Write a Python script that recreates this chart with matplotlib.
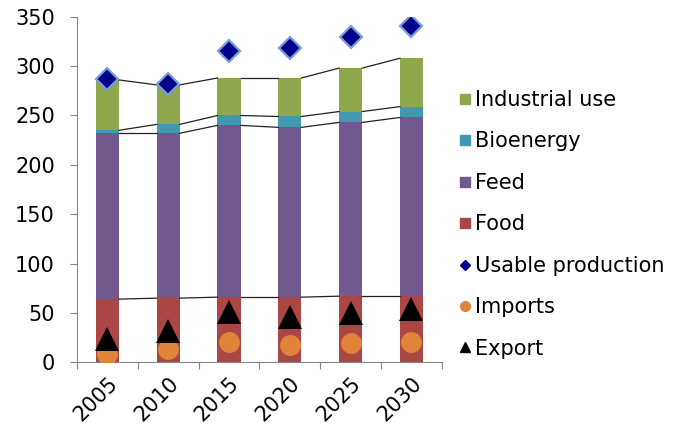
import matplotlib.pyplot as plt
import matplotlib.transforms as mtransforms
from matplotlib.lines import Line2D
import numpy as np

years = ['2005', '2010', '2015', '2020', '2025', '2030']
food = [64, 65, 66, 66, 67, 67]
feed = [168, 167, 174, 172, 176, 181]
bioenergy = [3, 9, 10, 11, 11, 11]
industrial = [51, 40, 38, 39, 44, 49]
usable_production = [287, 282, 315, 318, 330, 341]
imports = [8, 13, 21, 18, 20, 21]
export = [24, 32, 51, 46, 50, 54]

c_ind = '#8ea64c'
c_bio = '#4198af'
c_feed = '#71588f'
c_food = '#aa4643'

plt.rcParams['font.family'] = ['DejaVu Sans']
plt.rcParams['font.size'] = 15

fig = plt.figure(figsize=(6.84, 4.30), dpi=100)
ax = fig.add_axes([0.1126, 0.1574, 0.5334, 0.8036])

x = np.arange(len(years))
w = 0.38
b1 = np.array(food)
b2 = b1 + np.array(feed)
b3 = b2 + np.array(bioenergy)
b4 = b3 + np.array(industrial)

ax.bar(x, food, w, color=c_food, zorder=2)
ax.bar(x, feed, w, bottom=b1, color=c_feed, zorder=2)
ax.bar(x, bioenergy, w, bottom=b2, color=c_bio, zorder=2)
ax.bar(x, industrial, w, bottom=b3, color=c_ind, zorder=2)

# series lines between the bars
for tops in (b1, b2, b3, b4):
    for i in range(len(x) - 1):
        ax.plot([x[i] + w / 2, x[i + 1] - w / 2], [tops[i], tops[i + 1]],
                color='#222222', lw=0.9, zorder=3)

ax.plot(x, usable_production, 'D', color='#00008b', markersize=11,
        markeredgecolor='#7d9fd8', markeredgewidth=1.6, zorder=4)
ax.plot(x, imports, 'o', color='#e0843a', markersize=15, markeredgewidth=0, zorder=4)
ax.plot(x, export, '^', color='black', markersize=17, markeredgewidth=0, zorder=5)

ax.set_xlim(-0.5, 5.5)
ax.set_ylim(0, 350)
ax.set_yticks(range(0, 351, 50))
ax.set_xticks(np.arange(-0.5, 6, 1))
ax.set_xticklabels([])
ax.set_xticks(x, minor=True)
ax.set_xticklabels(years, minor=True, rotation=45, ha='right', va='top',
                   rotation_mode='anchor')
offset = mtransforms.ScaledTranslation(-4 / 100, 0, fig.dpi_scale_trans)
for lbl in ax.get_xticklabels(minor=True):
    lbl.set_transform(lbl.get_transform() + offset)
ax.tick_params(axis='x', which='minor', length=0, pad=8)
ax.tick_params(axis='x', which='major', length=5, color='#868686')
ax.tick_params(axis='y', length=5, color='#868686', pad=11)
for s in ('top', 'right'):
    ax.spines[s].set_visible(False)
for s in ('left', 'bottom'):
    ax.spines[s].set_color('#868686')

handles = [
    Line2D([], [], marker='s', ls='', color=c_ind, markersize=7),
    Line2D([], [], marker='s', ls='', color=c_bio, markersize=7),
    Line2D([], [], marker='s', ls='', color=c_feed, markersize=7),
    Line2D([], [], marker='s', ls='', color=c_food, markersize=7),
    Line2D([], [], marker='D', ls='', color='#00008b', markersize=5),
    Line2D([], [], marker='o', ls='', color='#e0843a', markersize=7),
    Line2D([], [], marker='^', ls='', color='black', markersize=7),
]
labels = ['Industrial use', 'Bioenergy', 'Feed', 'Food', 'Usable production',
          'Imports', 'Export']
fig.legend(handles, labels, loc='upper left', bbox_to_anchor=(0.66, 0.81),
           frameon=False, handlelength=0.5, handletextpad=0.25,
           labelspacing=1.03, borderaxespad=0)

fig.savefig('out.png', dpi=100)
